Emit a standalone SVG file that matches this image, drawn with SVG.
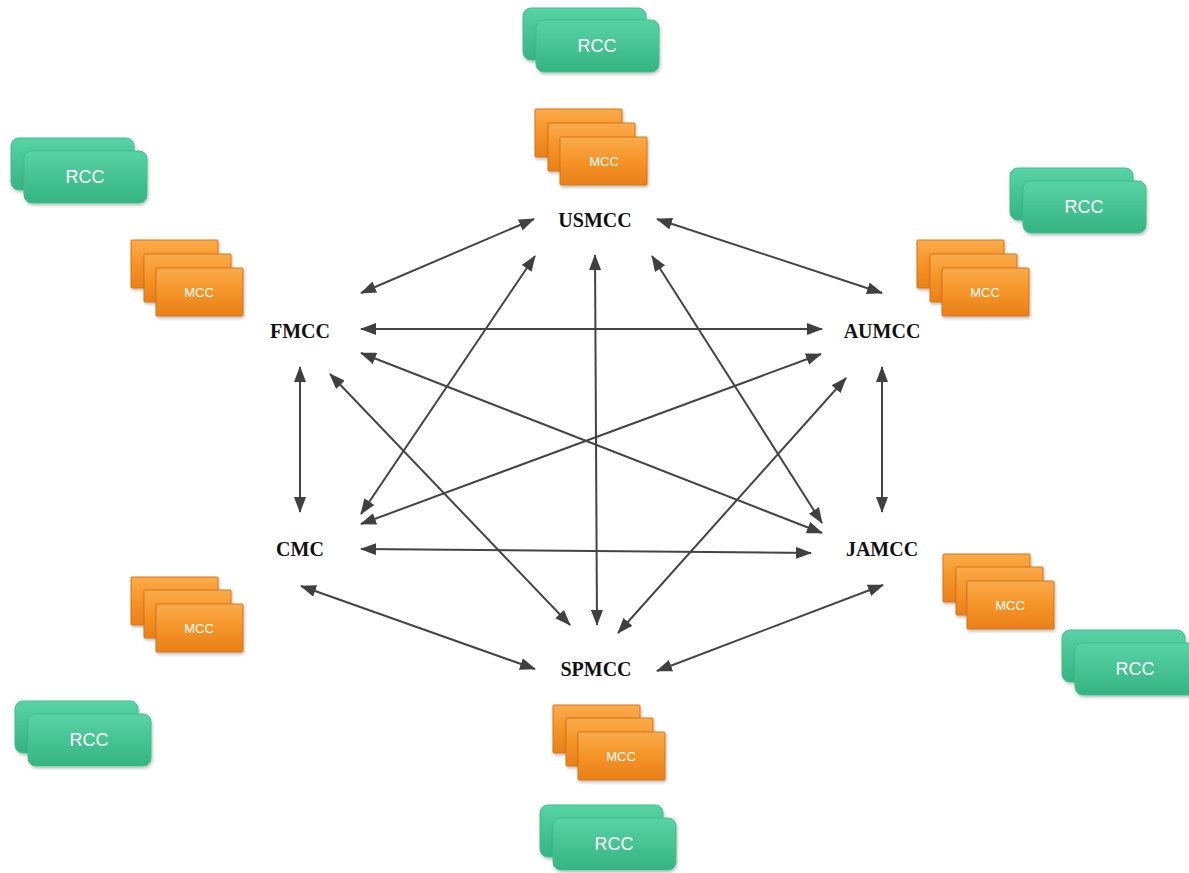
<svg xmlns="http://www.w3.org/2000/svg" xmlns:xlink="http://www.w3.org/1999/xlink" width="1189" height="873" viewBox="0 0 1189 873">
<defs>
<linearGradient id="gGreen" x1="0" y1="0" x2="0" y2="1">
<stop offset="0" stop-color="#58d3a5"/>
<stop offset="1" stop-color="#35b383"/>
</linearGradient>
<linearGradient id="gOrange" x1="0" y1="0" x2="0" y2="1">
<stop offset="0" stop-color="#fbab4c"/>
<stop offset="0.5" stop-color="#f59428"/>
<stop offset="1" stop-color="#e9801a"/>
</linearGradient>
<filter id="sh" x="-10%" y="-10%" width="125%" height="135%">
<feDropShadow dx="1" dy="2" stdDeviation="1.5" flood-color="#000" flood-opacity="0.25"/>
</filter>
<rect id="rcc" width="123" height="52" rx="8" ry="8" fill="url(#gGreen)" stroke="#3fbf8f" stroke-width="1" filter="url(#sh)"/>
<rect id="mcc" width="87" height="48" rx="1" ry="1" fill="url(#gOrange)" stroke="#d97416" stroke-width="1" filter="url(#sh)"/>
<marker id="ah" viewBox="0 0 16 12" markerWidth="16" markerHeight="12" refX="15" refY="6" orient="auto-start-reverse" markerUnits="userSpaceOnUse">
<path d="M0,0 L16,6 L0,12 z" fill="#404040"/>
</marker>
</defs>
<style>
.lbl{font-family:"Liberation Serif","Times New Roman",serif;font-weight:bold;font-size:20px;fill:#111;text-anchor:middle}
.rt{font-family:"Liberation Sans",Arial,sans-serif;font-size:18px;fill:#ffffff;text-anchor:middle}
.mt{font-family:"Liberation Sans",Arial,sans-serif;font-size:13px;fill:#ffffff;text-anchor:middle}
.cn{stroke:#444444;stroke-width:2;fill:none;marker-start:url(#ah);marker-end:url(#ah)}
</style>
<rect width="1189" height="873" fill="#ffffff"/>

<g id="connectors">
<line class="cn" x1="534" y1="219" x2="361" y2="293"/>
<line class="cn" x1="657" y1="219" x2="882" y2="293"/>
<line class="cn" x1="361" y1="329" x2="822" y2="329"/>
<line class="cn" x1="300" y1="367" x2="300" y2="512"/>
<line class="cn" x1="882" y1="367" x2="882" y2="512"/>
<line class="cn" x1="361" y1="549" x2="811" y2="553"/>
<line class="cn" x1="301" y1="586" x2="535" y2="669"/>
<line class="cn" x1="883" y1="585" x2="657" y2="671"/>
<line class="cn" x1="595" y1="255" x2="597" y2="625"/>
<line class="cn" x1="535" y1="256" x2="361" y2="514"/>
<line class="cn" x1="652" y1="256" x2="822" y2="523"/>
<line class="cn" x1="330" y1="374" x2="570" y2="625"/>
<line class="cn" x1="846" y1="378" x2="618" y2="633"/>
<line class="cn" x1="361" y1="353" x2="822" y2="533"/>
<line class="cn" x1="821" y1="354" x2="361" y2="524"/>
</g>

<g id="USMCC"><text class="lbl" x="595" y="227">USMCC</text></g>
<g id="FMCC"><text class="lbl" x="300" y="338">FMCC</text></g>
<g id="AUMCC"><text class="lbl" x="882" y="338">AUMCC</text></g>
<g id="CMC"><text class="lbl" x="300" y="556">CMC</text></g>
<g id="JAMCC"><text class="lbl" x="882" y="556">JAMCC</text></g>
<g id="SPMCC"><text class="lbl" x="596" y="676">SPMCC</text></g>

<g id="rcc-top">
<use xlink:href="#rcc" href="#rcc" x="523" y="8"/>
<use xlink:href="#rcc" href="#rcc" x="536" y="20"/>
<text class="rt" x="597" y="52">RCC</text>
</g>
<g id="rcc-topleft">
<use xlink:href="#rcc" href="#rcc" x="11" y="138"/>
<use xlink:href="#rcc" href="#rcc" x="24" y="151"/>
<text class="rt" x="85" y="183">RCC</text>
</g>
<g id="rcc-topright">
<use xlink:href="#rcc" href="#rcc" x="1010" y="168"/>
<use xlink:href="#rcc" href="#rcc" x="1023" y="181"/>
<text class="rt" x="1084" y="213">RCC</text>
</g>
<g id="rcc-bottomleft">
<use xlink:href="#rcc" href="#rcc" x="15" y="701"/>
<use xlink:href="#rcc" href="#rcc" x="28" y="714"/>
<text class="rt" x="89" y="746">RCC</text>
</g>
<g id="rcc-bottomright">
<use xlink:href="#rcc" href="#rcc" x="1062" y="630"/>
<use xlink:href="#rcc" href="#rcc" x="1075" y="643"/>
<text class="rt" x="1135" y="675">RCC</text>
</g>
<g id="rcc-bottom">
<use xlink:href="#rcc" href="#rcc" x="540" y="805"/>
<use xlink:href="#rcc" href="#rcc" x="553" y="818"/>
<text class="rt" x="614" y="850">RCC</text>
</g>

<g id="mcc-top">
<use xlink:href="#mcc" href="#mcc" x="535" y="109"/>
<use xlink:href="#mcc" href="#mcc" x="548" y="123"/>
<use xlink:href="#mcc" href="#mcc" x="560" y="137"/>
<text class="mt" x="604" y="166">MCC</text>
</g>
<g id="mcc-topleft">
<use xlink:href="#mcc" href="#mcc" x="131" y="240"/>
<use xlink:href="#mcc" href="#mcc" x="144" y="254"/>
<use xlink:href="#mcc" href="#mcc" x="156" y="268"/>
<text class="mt" x="199" y="297">MCC</text>
</g>
<g id="mcc-topright">
<use xlink:href="#mcc" href="#mcc" x="917" y="240"/>
<use xlink:href="#mcc" href="#mcc" x="930" y="254"/>
<use xlink:href="#mcc" href="#mcc" x="942" y="268"/>
<text class="mt" x="985" y="297">MCC</text>
</g>
<g id="mcc-bottomleft">
<use xlink:href="#mcc" href="#mcc" x="131" y="577"/>
<use xlink:href="#mcc" href="#mcc" x="144" y="590"/>
<use xlink:href="#mcc" href="#mcc" x="156" y="604"/>
<text class="mt" x="199" y="633">MCC</text>
</g>
<g id="mcc-bottomright">
<use xlink:href="#mcc" href="#mcc" x="943" y="554"/>
<use xlink:href="#mcc" href="#mcc" x="956" y="567"/>
<use xlink:href="#mcc" href="#mcc" x="967" y="581"/>
<text class="mt" x="1010" y="610">MCC</text>
</g>
<g id="mcc-bottom">
<use xlink:href="#mcc" href="#mcc" x="553" y="705"/>
<use xlink:href="#mcc" href="#mcc" x="566" y="718"/>
<use xlink:href="#mcc" href="#mcc" x="578" y="732"/>
<text class="mt" x="621" y="761">MCC</text>
</g>
</svg>
